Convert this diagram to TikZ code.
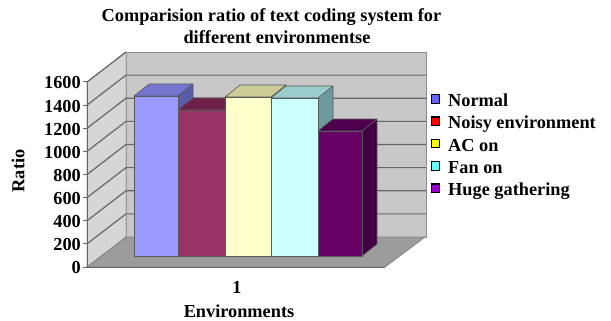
\documentclass[tikz,border=0pt]{standalone}
\usepackage{fontspec}
\setmainfont{Liberation Serif}
% bar colours: front, top, side
\definecolor{nfront}{HTML}{9999FF}\definecolor{ntop}{HTML}{7575D0}\definecolor{nside}{HTML}{5B5BAA}
\definecolor{qfront}{HTML}{993366}\definecolor{qtop}{HTML}{6E2048}\definecolor{qside}{HTML}{5A1A3A}
\definecolor{afront}{HTML}{FFFFCC}\definecolor{atop}{HTML}{CCCC99}\definecolor{aside}{HTML}{A8A87A}
\definecolor{ffront}{HTML}{CCFFFF}\definecolor{ftop}{HTML}{9ACCCC}\definecolor{fside}{HTML}{6E9A9A}
\definecolor{hfront}{HTML}{660066}\definecolor{htop}{HTML}{4E004E}\definecolor{hside}{HTML}{420042}
% chart walls
\definecolor{backwall}{HTML}{C8C8C8}
\definecolor{sidewall}{HTML}{D6D6D6}
\definecolor{floorc}{HTML}{9C9C9C}
\definecolor{gridc}{HTML}{666666}
% legend keys
\definecolor{knormal}{HTML}{6666FF}
\definecolor{knoisy}{HTML}{FF0000}
\definecolor{kac}{HTML}{FFFF00}
\definecolor{kfan}{HTML}{66FFFF}
\definecolor{khuge}{HTML}{9900CC}

% one 3-D column: left x, right x, top y, front, top and side colours
\newcommand\chartbar[6]{%
  \filldraw[baredge, fill=#6] (#2,#3) -- (#2+15,#3-12) -- (#2+15,244) -- (#2,256) -- cycle;
  \filldraw[baredge, fill=#5] (#1,#3) -- (#1+15,#3-12) -- (#2+15,#3-12) -- (#2,#3) -- cycle;
  \filldraw[baredge, fill=#4] (#1,#3) rectangle (#2,256);
}

\tikzset{
  lbl/.style={font=\fontsize{18.3}{20}\selectfont\bfseries, inner sep=0pt, text=black},
  baredge/.style={draw=black!65, line width=0.6pt, line join=round},
  gridline/.style={draw=gridc, line width=1.2pt},
  keybox/.style={draw=black, line width=1.2pt, minimum size=8.5pt, inner sep=0pt},
}

\begin{document}
\begin{tikzpicture}[x=1pt,y=-1pt]
\useasboundingbox (0,0) rectangle (611,321);
\fill[white] (0,0) rectangle (611,321);

% back wall
\filldraw[fill=backwall, draw=black!45, line width=0.8pt] (126,52) rectangle (426,237);
% side wall
\filldraw[fill=sidewall, draw=black!35, line width=0.6pt] (87,267) -- (87,82) -- (126,52) -- (126,237) -- cycle;

% gridlines on both walls (185 units of height per 1600)
\foreach \v in {200,400,...,1400} {
  \pgfmathsetmacro\yf{267-\v/1600*185}
  \pgfmathsetmacro\yb{237-\v/1600*185}
  \draw[gridline] (87,\yf) -- (126,\yb) -- (426,\yb);
}
\draw[gridline] (87,82) -- (126,52);

% floor
\filldraw[fill=floorc, draw=black!50, line width=0.8pt] (87,267) -- (126,237) -- (425,237) -- (385,267) -- cycle;

% columns
\chartbar{134}{178}{96}{nfront}{ntop}{nside}
\chartbar{178}{225}{110}{qfront}{qtop}{qside}
\chartbar{225}{271}{97}{afront}{atop}{aside}
\chartbar{271}{318}{98}{ffront}{ftop}{fside}
\chartbar{318}{362}{131}{hfront}{htop}{hside}

% value axis with ticks and labels
\draw[draw=black!60, line width=1pt] (87,82) -- (87,267) -- (385,267);
\foreach \v [count=\i] in {0,200,...,1600} {
  \pgfmathsetmacro\yf{267-\v/1600*185}
  \draw[draw=black!60, line width=1pt] (83,\yf) -- (87,\yf);
  \node[lbl, anchor=east] (tick\i) at (81,\yf+1) {\v};
}

% axis titles
\node[lbl, rotate=90] (ytitle) at (18,171) {Ratio};
\node[lbl] (cat) at (237,287.5) {1};
\node[lbl] (xtitle) at (239,311.5) {Environments};

% chart title
\node[lbl, anchor=base] (title1) at (271.5,21.5) {Comparision ratio of text coding system for};
\node[lbl, anchor=base] (title2) at (277,44) {different environmentse};

% legend
\foreach \c/\t [count=\i from 0] in {knormal/Normal, knoisy/Noisy environment, kac/AC on, kfan/Fan on, khuge/Huge gathering} {
  \node[keybox, fill=\c] (key\i) at (435.5,99+22.3*\i) {};
  \node[lbl, anchor=base west] (entry\i) at (448,106.5+22.3*\i) {\t};
}
\end{tikzpicture}
\end{document}
